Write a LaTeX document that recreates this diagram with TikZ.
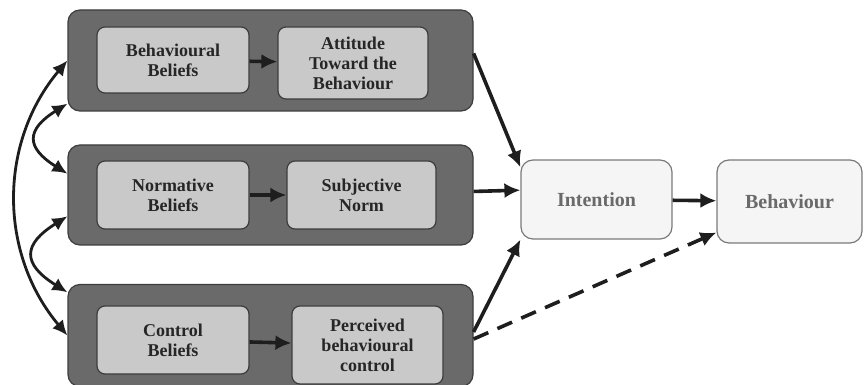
\documentclass[tikz,border=0pt]{standalone}
\usepackage{fontspec}
\setmainfont{Liberation Serif}
\usetikzlibrary{arrows.meta}

\definecolor{groupfill}{HTML}{6A6A6A}
\definecolor{groupline}{HTML}{3C3C3C}
\definecolor{beliefill}{HTML}{C9C9C9}
\definecolor{outcomefill}{HTML}{F5F5F5}
\definecolor{outcomeline}{HTML}{7A7A7A}
\definecolor{outcometext}{HTML}{6A6A6A}
\definecolor{arrowgrey}{HTML}{1E1E1E}

\begin{document}
\begin{tikzpicture}[x=0.5pt, y=0.5pt,
        arr/.style={draw=arrowgrey, line width=1.8pt, -{Latex[length=8pt,width=7.5pt]}},
        dblarr/.style={draw=arrowgrey, line width=1.4pt, {Latex[length=7.5pt,width=7pt]}-{Latex[length=7.5pt,width=7pt]}}
    ]
    \useasboundingbox (0,0) rectangle (864,-385);

    \begin{scope}[
            every node/.style={draw=groupline, fill=groupfill, rounded corners=6pt,
                line width=0.6pt, minimum width=202.5pt, inner sep=0pt}
        ]
        \node[minimum height=50.5pt] (grp1) at (270.5,-60.5) {};
        \node[minimum height=50pt] (grp2) at (270.5,-195) {};
        \node[minimum height=51pt] (grp3) at (270.5,-335.5) {};
    \end{scope}

    \begin{scope}[
            every node/.style={draw=groupline, fill=beliefill, rounded corners=4pt,
                line width=0.6pt, align=center, inner sep=0pt, text=black!85,
                font=\bfseries\fontsize{9}{10}\selectfont}
        ]
        \node[minimum width=76pt, minimum height=33pt] (bb) at (173,-60) {Behavioural\\Beliefs};
        \node[minimum width=75pt, minimum height=36pt] (atb) at (353,-63) {Attitude\\Toward the\\Behaviour};

        \node[minimum width=76pt, minimum height=34pt] (nb) at (173,-195) {Normative\\Beliefs};
        \node[minimum width=74.5pt, minimum height=34pt] (sn) at (361.5,-195) {Subjective\\Norm};

        \node[minimum width=76pt, minimum height=34pt] (cb) at (173,-340) {Control\\Beliefs};
        \node[minimum width=75.5pt, minimum height=39pt] (pbc) at (367.5,-345) {Perceived\\behavioural\\control};
    \end{scope}

    \begin{scope}[
            every node/.style={draw=outcomeline, fill=outcomefill, rounded corners=6pt,
                line width=0.6pt, inner sep=0pt, text=outcometext,
                font=\bfseries\fontsize{10}{12}\selectfont}
        ]
        \node[minimum width=75.5pt, minimum height=39.5pt] (intent) at (596.5,-199.5) {Intention};
        \node[minimum width=72.5pt, minimum height=41.5pt] (behav) at (789.5,-201.5) {Behaviour};
    \end{scope}

    \draw (bb) edge[arr] (atb);
    \draw (nb) edge[arr] (sn);
    \draw (cb) edge[arr] (pbc);

    \draw (grp1.2) edge[arr] (intent.157);
    \draw (grp2.1) edge[arr] (intent.173);
    \draw (grp3.1) edge[arr] (intent.south west);
    \draw (intent) edge[arr] (behav);
    \draw (grp3.-1) edge[arr, dash pattern=on 8pt off 5pt] (behav.203);

    \draw (grp1.west) edge[dblarr, bend right=40] (grp3.west);
    \draw (grp1.192) edge[dblarr, out=212, in=148, looseness=1.8] (grp2.174);
    \draw (grp2.186) edge[dblarr, out=212, in=148, looseness=1.8] (grp3.168);
\end{tikzpicture}
\end{document}
